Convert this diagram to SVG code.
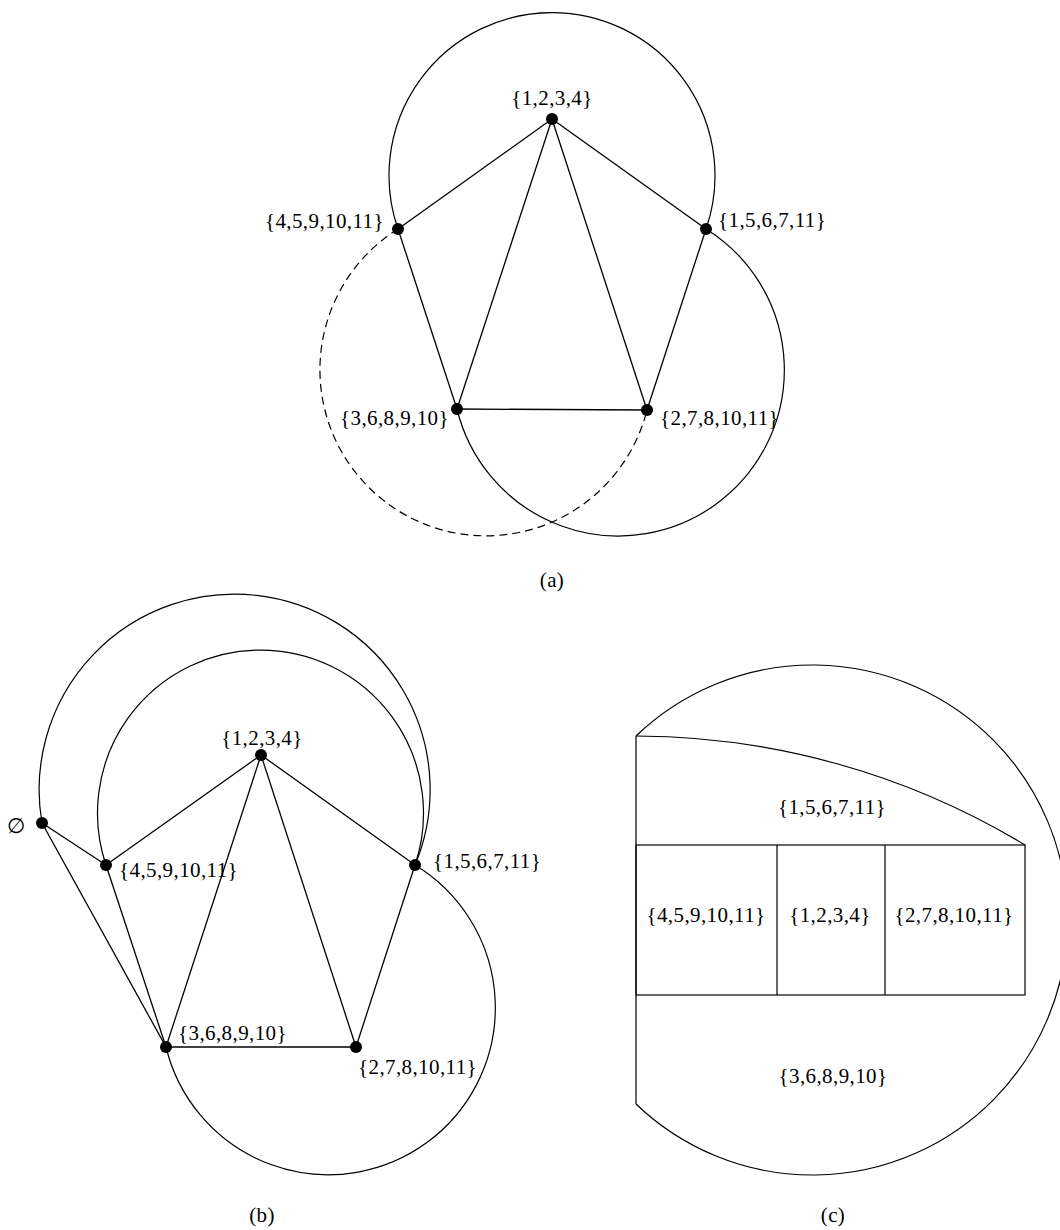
<svg xmlns="http://www.w3.org/2000/svg" width="1060" height="1230" viewBox="0 0 1060 1230">
  <style>
    text { font-family: "Liberation Serif", "DejaVu Serif", serif; font-size: 21px; letter-spacing: 0.4px; fill: #000; }
    .edge { stroke: #000; stroke-width: 1.3; fill: none; }
    .arc { stroke: #000; stroke-width: 1.2; fill: none; }
    .dash { stroke-dasharray: 8 5; }
    .dot { fill: #000; }
    .mid { text-anchor: middle; }
    .end { text-anchor: end; }
  </style>

  <rect width="1060" height="1230" fill="#fff"/>

  <!-- (a) -->
  <g id="a-connectors">
    <path class="arc" d="M398,229 A163,163 0 1 1 706,229"/>
    <path class="arc" d="M706,229 A166,166 0 1 1 457,409"/>
    <path class="arc dash" d="M398,229 A166,166 0 1 0 647,410"/>
    <line class="edge" x1="552" y1="119" x2="398" y2="229"/>
    <line class="edge" x1="552" y1="119" x2="706" y2="229"/>
    <line class="edge" x1="552" y1="119" x2="457" y2="409"/>
    <line class="edge" x1="552" y1="119" x2="647" y2="410"/>
    <line class="edge" x1="398" y1="229" x2="457" y2="409"/>
    <line class="edge" x1="706" y1="229" x2="647" y2="410"/>
    <line class="edge" x1="457" y1="409" x2="647" y2="410"/>
  </g>
  <g id="a-n1234"><circle class="dot" cx="552" cy="119" r="6"/><text class="mid" x="552" y="105">{1,2,3,4}</text></g>
  <g id="a-n4591011"><circle class="dot" cx="398" cy="229" r="6"/><text class="end" x="384" y="228">{4,5,9,10,11}</text></g>
  <g id="a-n156711"><circle class="dot" cx="706" cy="229" r="6"/><text x="718" y="227">{1,5,6,7,11}</text></g>
  <g id="a-n368910"><circle class="dot" cx="457" cy="409" r="6"/><text class="end" x="449" y="425">{3,6,8,9,10}</text></g>
  <g id="a-n2781011"><circle class="dot" cx="647" cy="410" r="6"/><text x="660" y="425">{2,7,8,10,11}</text></g>
  <text class="mid" x="552" y="587">(a)</text>

  <!-- (b) -->
  <g id="b-connectors">
    <path class="arc" d="M42,823 A195.5,195.5 0 1 1 415,865"/>
    <path class="arc" d="M106,865 A163,163 0 1 1 415,865"/>
    <path class="arc" d="M415,865 A167,167 0 1 1 166,1047"/>
    <line class="edge" x1="42" y1="823" x2="106" y2="865"/>
    <line class="edge" x1="42" y1="823" x2="166" y2="1047"/>
    <line class="edge" x1="106" y1="865" x2="261" y2="755"/>
    <line class="edge" x1="106" y1="865" x2="166" y2="1047"/>
    <line class="edge" x1="261" y1="755" x2="166" y2="1047"/>
    <line class="edge" x1="261" y1="755" x2="356" y2="1047"/>
    <line class="edge" x1="261" y1="755" x2="415" y2="865"/>
    <line class="edge" x1="415" y1="865" x2="356" y2="1047"/>
    <line class="edge" x1="166" y1="1047" x2="356" y2="1047"/>
  </g>
  <g id="b-empty"><circle class="dot" cx="42" cy="823" r="6"/><text class="mid" x="16" y="833" font-size="23">∅</text></g>
  <g id="b-n1234"><circle class="dot" cx="261" cy="755" r="6"/><text class="mid" x="262" y="745">{1,2,3,4}</text></g>
  <g id="b-n4591011"><circle class="dot" cx="106" cy="865" r="6"/><text x="119" y="877">{4,5,9,10,11}</text></g>
  <g id="b-n156711"><circle class="dot" cx="415" cy="865" r="6"/><text x="433" y="868">{1,5,6,7,11}</text></g>
  <g id="b-n368910"><circle class="dot" cx="166" cy="1047" r="6"/><text x="178" y="1040">{3,6,8,9,10}</text></g>
  <g id="b-n2781011"><circle class="dot" cx="356" cy="1047" r="6"/><text x="358" y="1074">{2,7,8,10,11}</text></g>
  <text class="mid" x="262" y="1222">(b)</text>

  <!-- (c) -->
  <g id="c-regions">
    <path class="arc" d="M636,736 A255,255 0 1 1 636,1104"/>
    <path class="arc" d="M636,736 L636,1104"/>
    <path class="arc" d="M636,736 A755,755 0 0 1 1025,845"/>
    <rect class="arc" x="636" y="845" width="389" height="150"/>
    <line class="arc" x1="777" y1="845" x2="777" y2="995"/>
    <line class="arc" x1="885" y1="845" x2="885" y2="995"/>
    <text class="mid" x="832" y="814">{1,5,6,7,11}</text>
    <text class="mid" x="706" y="922">{4,5,9,10,11}</text>
    <text class="mid" x="830" y="922">{1,2,3,4}</text>
    <text class="mid" x="954" y="922">{2,7,8,10,11}</text>
    <text class="mid" x="833" y="1083">{3,6,8,9,10}</text>
  </g>
  <text class="mid" x="833" y="1222">(c)</text>
</svg>
